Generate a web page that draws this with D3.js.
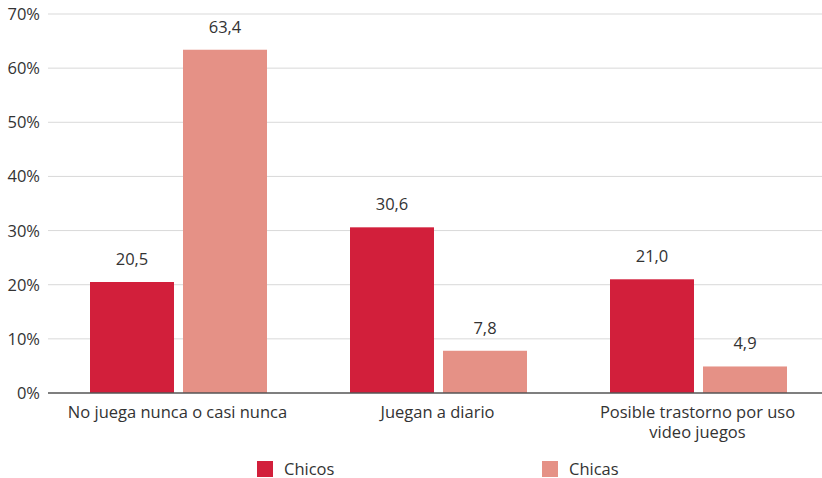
<!DOCTYPE html>
<html><head><meta charset="utf-8">
<script src="https://d3js.org/d3.v7.min.js"></script>
<style>body{margin:0;background:#fff}text{font-family:"Open Sans","DejaVu Sans",sans-serif;fill:#333}</style>
</head><body>
<script>
var categories = ["No juega nunca o casi nunca", "Juegan a diario", "Posible trastorno por uso|video juegos"];
var series = ["Chicos", "Chicas"];
var chicos = [20.5, 30.6, 21.0];
var chicas = [63.4, 7.8, 4.9];
var yTicks = [0, 10, 20, 30, 40, 50, 60, 70];
var colors = ["#d21f3b", "#e59186"];

var W = 822, H = 478;
var FS = 16.5;
var svg = d3.select("body").append("svg").attr("width", W).attr("height", H);

var y = d3.scaleLinear().domain([0, 70]).range([393, 14]);
var x = d3.scaleBand().domain(categories).range([48.5, 828.5]);
var xs = d3.scaleBand().domain(series).range([41.5, 218.5]).paddingInner(0.097);

// grid
svg.append("g").selectAll("line").data(yTicks.slice(1)).enter().append("line")
    .attr("x1", 48).attr("x2", W).attr("y1", function(d){return y(d);}).attr("y2", function(d){return y(d);})
    .attr("stroke", "#d9d9d9").attr("stroke-width", 1);

svg.append("g").selectAll("text").data(yTicks).enter().append("text")
    .attr("x", 40).attr("y", function(d){return y(d) + 6;})
    .attr("text-anchor", "end").attr("font-size", FS)
    .text(function(d){return d + "%";});

var rows = categories.map(function(c, i){return {cat: c, vals: [chicos[i], chicas[i]]};});
var g = svg.append("g").selectAll("g").data(rows).enter().append("g")
    .attr("transform", function(d){return "translate(" + x(d.cat) + ",0)";});

g.selectAll("rect").data(function(d){return d.vals.map(function(v, j){return {s: series[j], v: v, j: j};});})
    .enter().append("rect")
    .attr("x", function(d){return xs(d.s);}).attr("width", xs.bandwidth())
    .attr("y", function(d){return y(d.v);}).attr("height", function(d){return y(0) - y(d.v);})
    .attr("fill", function(d){return colors[d.j];});

g.selectAll("text.val").data(function(d){return d.vals.map(function(v, j){return {s: series[j], v: v};});})
    .enter().append("text").attr("class", "val")
    .attr("x", function(d){return xs(d.s) + xs.bandwidth() / 2;})
    .attr("y", function(d){return y(d.v) - 17;})
    .attr("text-anchor", "middle").attr("font-size", FS)
    .text(function(d){return d3.format(".1f")(d.v).replace(".", ",");});

svg.append("line").attr("x1", 48).attr("x2", W).attr("y1", y(0)).attr("y2", y(0))
    .attr("stroke", "#555").attr("stroke-width", 1.5);

// category labels
var lab = svg.append("g").selectAll("text").data(categories).enter().append("text")
    .attr("x", function(d){return x(d) + x.bandwidth() / 2 - 1;})
    .attr("y", 418).attr("text-anchor", "middle").attr("font-size", FS);
lab.selectAll("tspan").data(function(d){return d.split("|");}).enter().append("tspan")
    .attr("x", function(){return d3.select(this.parentNode).attr("x");})
    .attr("dy", function(d, i){return i ? 20 : 0;})
    .text(function(d){return d;});

// legend
var legX = [257, 542];
var leg = svg.append("g").selectAll("g").data(series).enter().append("g")
    .attr("transform", function(d, i){return "translate(" + legX[i] + ",461)";});
leg.append("rect").attr("width", 16).attr("height", 16).attr("fill", function(d, i){return colors[i];});
leg.append("text").attr("x", 27).attr("y", 14).attr("font-size", FS).text(function(d){return d;});
</script>
</body></html>
